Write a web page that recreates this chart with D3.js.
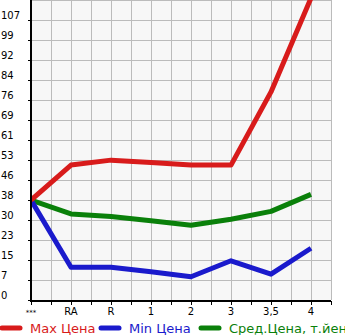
<!DOCTYPE html>
<html><head><meta charset="utf-8">
<script src="https://cdn.jsdelivr.net/npm/d3@7"></script>
<style>body{margin:0;background:#fff}svg{display:block}text{font-family:"DejaVu Sans",sans-serif}</style>
</head><body>
<script>
const categories = ["***","RA","R","1","2","3","3,5","4"];
const maxPrice = [38.2, 51.6, 53.5, 52.6, 51.6, 51.6, 79.6, 115.5];
const minPrice = [38.2, 12.5, 12.5, 10.8, 8.9, 15.0, 9.9, 19.8];
const avgPrice = [38.2, 32.9, 31.9, 30.3, 28.6, 30.9, 33.9, 40.4];
const yTickLabels = ["0","7","15","23","30","38","46","53","61","69","76","84","92","99","107"];
const legendLabels = ["Max Цена","Min Цена","Сред.Цена, т.йен"];
const colors = ["#d81b1b","#1a1acc","#0a800a"];

const W=345,H=335, L=31, R=331, T=0, B=300;
const step = 7.65;
const svg = d3.select("body").append("svg").attr("width",W).attr("height",H);
const x = d3.scalePoint().domain(categories).range([L, L+280]);
const y = d3.scaleLinear().domain([0, step*15]).range([B, T]);

svg.append("rect").attr("x",L).attr("y",T).attr("width",R-L).attr("height",B-T).attr("fill","#f7f7f7");
const g = svg.append("g");
// vertical gridlines every half category
const vgrid = d3.range(0,16).map(i=>L+i*20);
g.selectAll("line.v").data(vgrid).join("line").attr("x1",d=>d).attr("x2",d=>d).attr("y1",T).attr("y2",B)
 .attr("stroke","#bbb").attr("stroke-width",1).attr("shape-rendering","crispEdges");
const hv = d3.range(0,16).map(i=>i*step);
g.selectAll("line.h").data(hv).join("line").attr("x1",L).attr("x2",R).attr("y1",d=>Math.round(y(d))+0.5).attr("y2",d=>Math.round(y(d))+0.5)
 .attr("stroke","#bbb").attr("stroke-width",1);

const clip = svg.append("clipPath").attr("id","c").append("rect").attr("x",L).attr("y",T).attr("width",R-L).attr("height",B-T);
const line = d3.line().x((d,i)=>x(categories[i])).y(d=>y(d));
[avgPrice, minPrice, maxPrice].forEach((s,k)=>{
  const c = [colors[2],colors[1],colors[0]][k];
  svg.append("path").attr("d",line(s)).attr("fill","none").attr("stroke",c).attr("stroke-width",5)
    .attr("stroke-linejoin","round").attr("clip-path","url(#c)");
});

// axes
const yAxis = d3.axisLeft(y).tickValues(yTickLabels.map((t,i)=>i*step)).tickSize(3).tickFormat("");
const ya = svg.append("g").attr("transform",`translate(${L},0)`).call(yAxis);
ya.select(".domain").remove();
ya.selectAll(".tick line").attr("stroke","#000");
svg.append("line").attr("x1",L).attr("x2",L).attr("y1",T).attr("y2",B+1).attr("stroke","#000").attr("stroke-width",2);
svg.append("line").attr("x1",L-1).attr("x2",R).attr("y1",B+1).attr("y2",B+1).attr("stroke","#000").attr("stroke-width",2);
yTickLabels.forEach((t,i)=>{
  svg.append("text").attr("x",1).attr("y",Math.round(y(i*step))-1).attr("font-size",10).attr("fill","#000").text(t);
});
const xAxis = d3.axisBottom(d3.scaleLinear().domain([0,15]).range([L,R])).ticks(15).tickSize(4).tickFormat("");
const xa = svg.append("g").attr("transform",`translate(0,${B+1})`).call(xAxis);
xa.select(".domain").remove();
xa.selectAll(".tick line").attr("stroke","#000");
categories.forEach((c,i)=>{
  svg.append("text").attr("x",x(c)).attr("y",315).attr("text-anchor","middle")
   .attr("font-size", i===0?7:10).attr("fill","#000").text(c);
});

// legend
const lx=[0,99,199];
legendLabels.forEach((t,i)=>{
  svg.append("line").attr("x1",lx[i]+2).attr("x2",lx[i]+20).attr("y1",328).attr("y2",328)
    .attr("stroke",colors[i]).attr("stroke-width",5).attr("stroke-linecap","round");
  svg.append("text").attr("x",lx[i]+30).attr("y",333).attr("font-size",13).attr("fill",colors[i]).text(t);
});
</script>
</body></html>
